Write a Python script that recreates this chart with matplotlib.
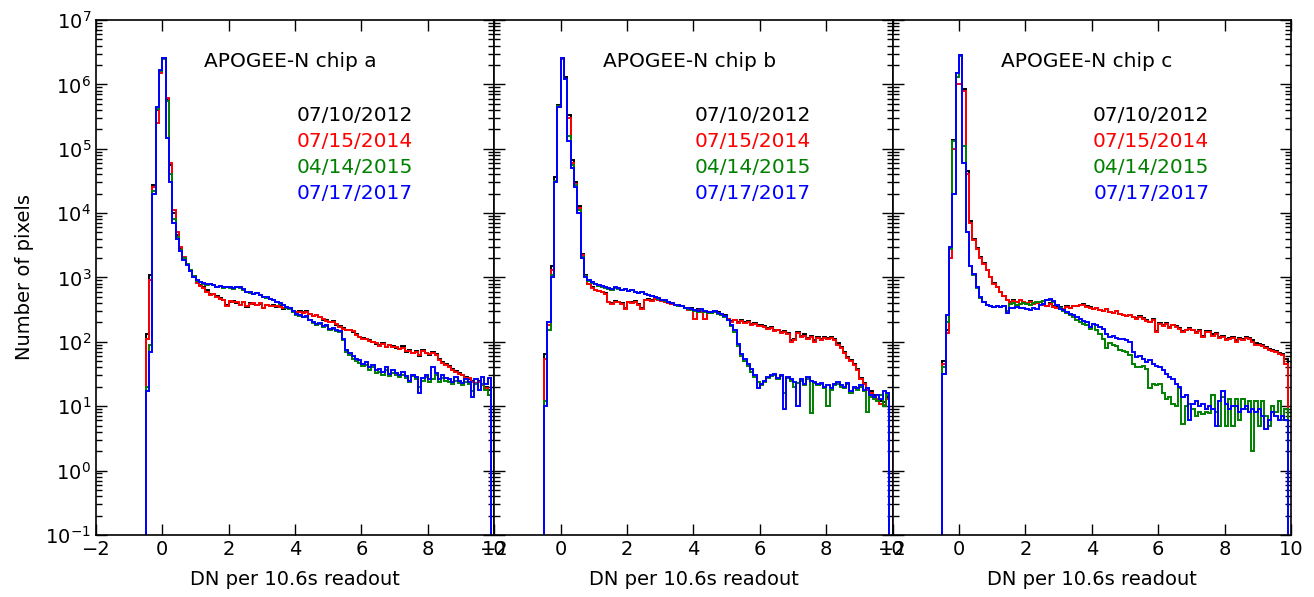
import numpy as np
import matplotlib.pyplot as plt

plt.rcParams['font.family'] = 'DejaVu Sans'
plt.rcParams['mathtext.default'] = 'regular'

# Histogram bins: -0.5 to 9.9 DN, 0.1 wide
bin_start = -0.5
bin_width = 0.1
n_bins = 104
edges = bin_start + bin_width * np.arange(n_bins + 1)

dates = ["07/10/2012", "07/15/2014", "04/14/2015", "07/17/2017"]
colors = ["k", "r", "g", "b"]
chips = ["APOGEE-N chip a", "APOGEE-N chip b", "APOGEE-N chip c"]

# chip a counts per bin
a_2012 = [130, 1100, 2.7e4, 4.0e5, 1.6e6, 2.6e6, 6.0e5, 5.5e4, 1.0e4, 4.5e3,
          2.8e3, 2.0e3, 1.6e3, 1.3e3, 1.05e3, 850, 760, 700, 640, 560,
          560, 520, 480, 450, 370, 420, 430, 400, 380, 420,
          350, 400, 390, 380, 390, 330, 380, 360, 370, 350,
          360, 320, 340, 330, 300, 290, 300, 290, 300, 270,
          250, 265, 240, 220, 215, 200, 210, 185, 175, 165,
          150, 155, 140, 130, 120, 115, 110, 105, 100, 92,
          88, 95, 82, 90, 85, 80, 78, 85, 70, 74,
          66, 72, 60, 75, 68, 62, 70, 64, 55, 48,
          45, 42, 38, 35, 33, 30, 28, 26, 25, 23,
          25, 22, 20, 18]
a_2014 = [110, 900, 2.5e4, 2.5e5, 1.5e6, 2.6e6, 6.2e5, 6.0e4, 1.1e4, 5.0e3,
          3.0e3, 2.1e3, 1.6e3, 1.25e3, 1.0e3, 820, 740, 690, 600, 540,
          550, 500, 470, 440, 360, 430, 420, 410, 370, 410,
          360, 390, 395, 370, 400, 340, 370, 365, 360, 355,
          350, 330, 335, 320, 305, 295, 295, 285, 295, 275,
          255, 260, 245, 225, 210, 205, 205, 190, 170, 160,
          155, 150, 145, 128, 118, 112, 112, 102, 98, 95,
          86, 92, 84, 88, 82, 82, 76, 80, 72, 72,
          68, 70, 62, 72, 66, 64, 68, 62, 52, 47,
          44, 40, 37, 34, 32, 30, 27, 27, 24, 23,
          24, 21, 19, 15]
a_2015 = [20, 90, 2.2e4, 4.2e5, 1.6e6, 2.5e6, 5.5e5, 4.0e4, 8.0e3, 4.2e3,
          2.7e3, 2.0e3, 1.6e3, 1.3e3, 1.05e3, 880, 840, 800, 770, 790,
          750, 710, 730, 690, 710, 690, 670, 700, 680, 640,
          590, 580, 550, 570, 530, 490, 480, 460, 440, 410,
          390, 370, 340, 320, 290, 265, 255, 240, 245, 215,
          195, 185, 190, 170, 175, 155, 160, 145, 140, 105,
          70, 62, 55, 50, 47, 42, 44, 37, 40, 33,
          34, 31, 36, 29, 33, 31, 28, 31, 27, 24,
          29, 26, 20, 25, 28, 24, 26, 30, 24, 27,
          25, 24, 22, 25, 23, 21, 24, 22, 17, 22,
          18, 22, 18, 15]
a_2017 = [17, 70, 2.0e4, 4.5e5, 1.7e6, 2.6e6, 1.45e5, 3.0e4, 7.0e3, 4.0e3,
          2.6e3, 1.9e3, 1.55e3, 1.25e3, 1.0e3, 900, 860, 820, 780, 800,
          760, 720, 740, 700, 720, 700, 680, 720, 700, 650,
          600, 590, 560, 580, 540, 500, 490, 470, 450, 420,
          400, 380, 350, 330, 300, 270, 260, 245, 250, 220,
          200, 190, 195, 175, 180, 160, 165, 150, 145, 110,
          75, 68, 60, 55, 52, 46, 48, 40, 44, 36,
          38, 34, 40, 32, 36, 33, 30, 34, 29, 25,
          31, 28, 16, 27, 30, 26, 40, 33, 26, 30,
          27, 26, 24, 28, 25, 23, 26, 24, 14, 26,
          18, 28, 22, 27]

# chip b counts per bin
b_2012 = [65, 200, 1.5e3, 3.6e4, 4.8e5, 2.6e6, 1.3e6, 3.3e5, 6.6e4, 3.0e4,
          1.3e4, 2.3e3, 1.1e3, 800, 700, 640, 620, 600, 580, 420,
          400, 430, 420, 400, 330, 420, 410, 430, 390, 330,
          450, 460, 440, 470, 450, 440, 420, 400, 390, 380,
          370, 360, 340, 320, 330, 310, 320, 300, 230, 290,
          290, 300, 290, 270, 260, 230, 210, 220, 200, 215,
          200, 210, 190, 195, 180, 180, 175, 165, 170, 150,
          155, 140, 145, 135, 105, 110, 140, 125, 130, 115,
          125, 105, 120, 110, 120, 115, 120, 110, 95, 82,
          70, 58, 52, 46, 38, 27, 23, 19, 17, 15,
          15, 12, 11.5, 14]
b_2014 = [55, 180, 1.3e3, 3.2e4, 4.5e5, 2.5e6, 1.2e6, 3.0e5, 6.0e4, 2.8e4,
          1.2e4, 2.2e3, 1.05e3, 780, 690, 630, 610, 590, 560, 410,
          390, 420, 410, 390, 320, 410, 400, 420, 380, 320,
          440, 450, 430, 460, 440, 430, 410, 395, 385, 375,
          365, 355, 335, 315, 325, 230, 315, 295, 225, 285,
          285, 295, 285, 265, 255, 225, 205, 215, 195, 210,
          195, 205, 185, 190, 175, 175, 170, 160, 165, 145,
          150, 135, 140, 130, 100, 108, 135, 120, 125, 112,
          120, 100, 115, 108, 115, 112, 115, 105, 90, 80,
          68, 56, 50, 44, 36, 26, 22, 18, 16, 14,
          13, 11, 10.5, 13]
b_2015 = [12, 150, 1.1e3, 3.2e4, 4.6e5, 2.6e6, 1.2e6, 1.6e5, 5.5e4, 2.7e4,
          1.1e4, 2.1e3, 1.05e3, 880, 830, 780, 740, 720, 690, 670,
          640, 690, 670, 630, 650, 610, 630, 590, 570, 590,
          550, 530, 510, 490, 470, 440, 430, 410, 395, 375,
          365, 355, 335, 325, 315, 305, 295, 315, 295, 285,
          285, 295, 275, 265, 245, 215, 175, 140, 85, 60,
          50, 42, 34, 28, 24, 21, 24, 27, 29, 30,
          26, 29, 16, 27, 25, 20, 23, 25, 21, 26,
          7.7, 23, 21, 22, 19, 10, 18, 21, 22, 20,
          19, 22, 16, 19, 18, 20, 17, 8, 14, 13,
          12, 15, 10, 15]
b_2017 = [10, 200, 1.0e3, 3.0e4, 4.5e5, 2.6e6, 1.2e6, 1.3e5, 5.0e4, 2.5e4,
          1.0e4, 2.0e3, 1.0e3, 900, 850, 800, 760, 740, 700, 680,
          650, 700, 680, 640, 660, 620, 640, 600, 580, 600,
          560, 540, 520, 500, 480, 450, 440, 420, 400, 380,
          370, 360, 340, 330, 320, 310, 300, 320, 300, 290,
          290, 300, 280, 270, 250, 220, 180, 150, 93, 65,
          55, 46, 38, 30, 19, 22, 25, 28, 30, 32,
          27, 30, 9, 28, 26, 24, 10, 26, 22, 28,
          25, 24, 22, 23, 20, 21, 19, 22, 24, 21,
          20, 23, 17, 20, 19, 21, 18, 19, 15, 14,
          15, 13, 17, 16]

# chip c counts per bin
c_2012 = [50, 150, 2.8e3, 1.35e5, 1.5e6, 2.85e6, 8.5e5, 4.5e4, 7.5e3, 4.0e3,
          2.9e3, 2.1e3, 1.65e3, 1.3e3, 1.0e3, 820, 710, 600, 520, 450,
          410, 440, 420, 445, 415, 405, 425, 395, 405, 375,
          385, 365, 395, 355, 345, 345, 325, 355, 335, 365,
          365, 375, 385, 355, 345, 325, 335, 315, 305, 325,
          295, 285, 305, 275, 265, 255, 265, 245, 235, 250,
          235, 215, 205, 225, 145, 195, 180, 195, 170, 185,
          175, 165, 145, 155, 165, 155, 140, 150, 125, 145,
          145, 130, 135, 120, 125, 110, 115, 120, 105, 115,
          110, 120, 115, 105, 95, 92, 88, 83, 78, 75,
          72, 68, 64, 55]
c_2014 = [45, 135, 2.0e3, 1.0e5, 1.0e6, 1.0e6, 8.0e5, 4.0e4, 7.0e3, 3.8e3,
          2.8e3, 2.0e3, 1.6e3, 1.3e3, 1.0e3, 800, 700, 590, 520, 440,
          400, 430, 420, 440, 410, 400, 420, 390, 400, 370,
          380, 360, 390, 350, 340, 340, 320, 350, 330, 360,
          360, 370, 380, 350, 340, 320, 330, 310, 300, 320,
          290, 280, 300, 270, 260, 250, 260, 240, 230, 245,
          230, 210, 200, 220, 140, 190, 175, 190, 165, 180,
          170, 160, 140, 150, 160, 150, 135, 145, 120, 140,
          140, 125, 130, 115, 120, 105, 110, 115, 100, 110,
          105, 115, 110, 100, 90, 88, 85, 80, 75, 72,
          69, 65, 62, 46]
c_2015 = [40, 200, 2.8e3, 1.3e5, 1.3e6, 2.8e6, 1.1e5, 5.0e3, 1.5e3, 1.1e3,
          690, 480, 415, 375, 355, 345, 355, 345, 355, 300,
          390, 400, 380, 390, 400, 390, 380, 400, 410, 420,
          430, 440, 450, 420, 380, 340, 300, 280, 260, 240,
          220, 200, 190, 180, 160, 190, 150, 130, 110, 80,
          95, 90, 85, 75, 73, 70, 62, 45, 41, 40,
          42, 38, 19, 22, 21, 22, 16, 13, 14, 11,
          10, 19, 5.2, 10, 11, 9, 7, 8, 7.5, 8,
          7.7, 15, 8, 5, 14, 5, 13, 5, 13, 6,
          13, 9, 12, 2.0, 12, 5, 12, 7, 5, 10,
          8, 12, 6, 9]
c_2017 = [32, 260, 3.0e3, 2.0e4, 1.5e6, 2.85e6, 6.0e4, 5.0e3, 1.5e3, 1.15e3,
          700, 490, 420, 380, 360, 350, 360, 350, 360, 280,
          330, 340, 350, 330, 340, 320, 310, 330, 320, 370,
          390, 440, 470, 430, 380, 320, 310, 290, 270, 260,
          240, 230, 210, 200, 170, 190, 180, 170, 160, 130,
          120, 125, 115, 110, 112, 105, 100, 70, 58, 60,
          55, 48, 52, 45, 42, 40, 37, 32, 28, 26,
          22, 20, 14, 15, 6, 11, 12, 10, 11, 9,
          10, 9, 5, 12, 17, 11, 9, 10, 10, 8,
          9, 10, 8, 9, 8, 9, 7, 4.5, 6, 8,
          7, 6, 7, 6]

panels = [[a_2012, a_2014, a_2015, a_2017],
          [b_2012, b_2014, b_2015, b_2017],
          [c_2012, c_2014, c_2015, c_2017]]

fig, axes = plt.subplots(1, 3, sharey=True, figsize=(13.14, 5.97), dpi=100)
fig.subplots_adjust(left=0.073, right=0.9825, top=0.9665, bottom=0.104, wspace=0)

for ax, chip, series in zip(axes, chips, panels):
    ax.set_yscale('log')
    for vals, col in zip(series, colors):
        ax.hist(edges[:-1], bins=edges, weights=vals, histtype='step',
                color=col, lw=1.4, log=True)
    ax.set_xlim(-2, 10)
    ax.set_ylim(1e-1, 1e7)
    ax.set_xticks([-2, 0, 2, 4, 6, 8, 10])
    ax.tick_params(which='both', direction='in', top=True, right=True, labelsize=14)
    ax.tick_params(which='major', length=8, width=1)
    ax.tick_params(which='minor', length=4, width=1)
    for sp in ax.spines.values():
        sp.set_linewidth(1.2)
    ax.set_xlabel("DN per 10.6s readout", fontsize=14, labelpad=8)
    ax.text(0.272, 0.92, chip, transform=ax.transAxes, fontsize=14.5,
            ha='left', va='center')
    for k, (d, col) in enumerate(zip(dates, colors)):
        ax.text(0.795, 0.815 - 0.0505 * k, d, transform=ax.transAxes,
                fontsize=14.5, color=col, ha='right', va='center')

axes[0].set_ylabel("Number of pixels", fontsize=14, labelpad=8)
for ax in axes[1:]:
    ax.tick_params(labelleft=False)

plt.savefig("out.png", dpi=100)
